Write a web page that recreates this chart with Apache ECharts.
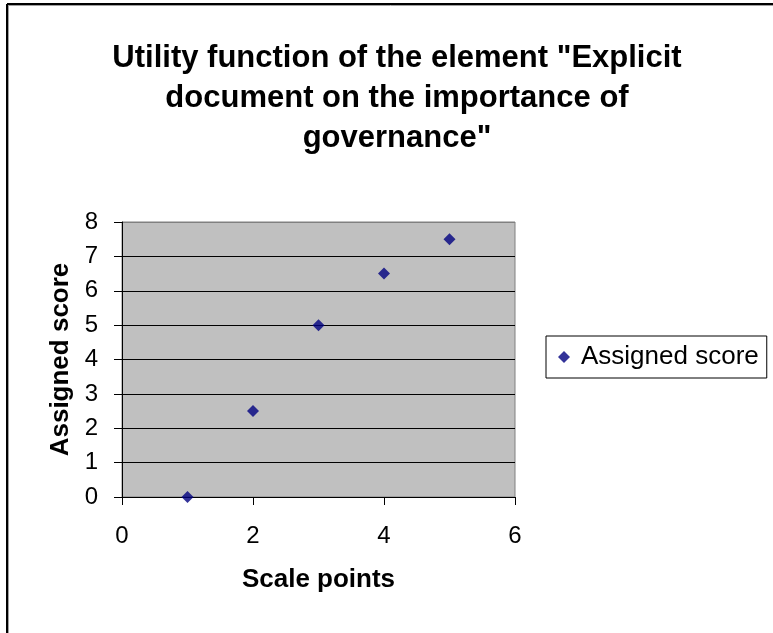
<!DOCTYPE html>
<html>
<head>
<meta charset="utf-8">
<script src="https://cdn.jsdelivr.net/npm/echarts@6/dist/echarts.min.js"></script>
<style>
html,body{margin:0;padding:0;background:#fff;}
#chart{width:773px;height:633px;}
</style>
</head>
<body>
<div id="chart"></div>
<script>
var titleText = 'Utility function of the element "Explicit\ndocument on the importance of\ngovernance"';
var seriesName = 'Assigned score';
var xValues = [1, 2, 3, 4, 5];
var yValues = [0, 2.5, 5, 6.5, 7.5];
var xTicks = [0, 2, 4, 6];
var yTicks = [0, 1, 2, 3, 4, 5, 6, 7, 8];

var FONT = '"Liberation Sans", Arial, sans-serif';
var points = xValues.map(function (x, i) { return [x, yValues[i]]; });
var splitColors = yTicks.map(function (t, i) { return i === yTicks.length - 1 ? '#808080' : '#000000'; });

var chart = echarts.init(document.getElementById('chart'), null, {renderer: 'canvas'});
chart.setOption({
  backgroundColor: '#ffffff',
  animation: false,
  title: {
    text: titleText,
    left: 392,
    top: 33,
    textAlign: 'center',
    textStyle: {fontFamily: FONT, fontWeight: 'bold', fontSize: 31, lineHeight: 40, color: '#000'}
  },
  graphic: [
    {type: 'line', shape: {x1: 7, y1: 4, x2: 773, y2: 4}, style: {stroke: '#000', lineWidth: 2}, z: 10},
    {type: 'line', shape: {x1: 7, y1: 4, x2: 7, y2: 633}, style: {stroke: '#000', lineWidth: 2}, z: 10},
    {type: 'line', shape: {x1: 8, y1: 5.5, x2: 773, y2: 5.5}, style: {stroke: '#a0a0a0', lineWidth: 1}, z: 10},
    {type: 'line', shape: {x1: 8.5, y1: 5, x2: 8.5, y2: 633}, style: {stroke: '#a0a0a0', lineWidth: 1}, z: 10}
  ],
  legend: {
    left: 546,
    top: 336,
    orient: 'vertical',
    padding: [8, 8, 8, 12],
    borderColor: '#000',
    borderWidth: 1,
    itemWidth: 12,
    itemHeight: 12,
    textStyle: {fontFamily: FONT, fontSize: 26, color: '#000', padding: [0, 0, 0, 6]},
    data: [{name: seriesName, icon: 'diamond'}]
  },
  grid: {
    left: 122, right: 258, top: 222, bottom: 136,
    show: true,
    backgroundColor: '#c0c0c0',
    borderColor: '#808080',
    borderWidth: 1
  },
  xAxis: {
    type: 'value',
    min: 0, max: 6, interval: 2,
    name: 'Scale points',
    nameLocation: 'middle',
    nameGap: 70,
    nameTextStyle: {fontFamily: FONT, fontWeight: 'bold', fontSize: 26, color: '#000'},
    axisLine: {show: true, lineStyle: {color: '#000', width: 1}},
    axisTick: {show: true, inside: false, length: 8, lineStyle: {color: '#000'}},
    axisLabel: {fontFamily: FONT, fontSize: 24, color: '#000', margin: 27},
    splitLine: {show: false}
  },
  yAxis: {
    type: 'value',
    min: 0, max: 8, interval: 1,
    name: 'Assigned score',
    nameLocation: 'middle',
    nameGap: 48,
    nameRotate: 90,
    nameTextStyle: {fontFamily: FONT, fontWeight: 'bold', fontSize: 26, color: '#000'},
    axisLine: {show: true, lineStyle: {color: '#000', width: 1}},
    axisTick: {show: true, inside: false, length: 8, lineStyle: {color: '#000'}},
    axisLabel: {fontFamily: FONT, fontSize: 24, color: '#000', margin: 24},
    splitLine: {show: true, lineStyle: {color: splitColors, width: 1}}
  },
  series: [{
    name: seriesName,
    type: 'scatter',
    symbol: 'diamond',
    symbolSize: [12, 12],
    itemStyle: {color: '#000080'},
    data: points
  }]
});
</script>
</body>
</html>
